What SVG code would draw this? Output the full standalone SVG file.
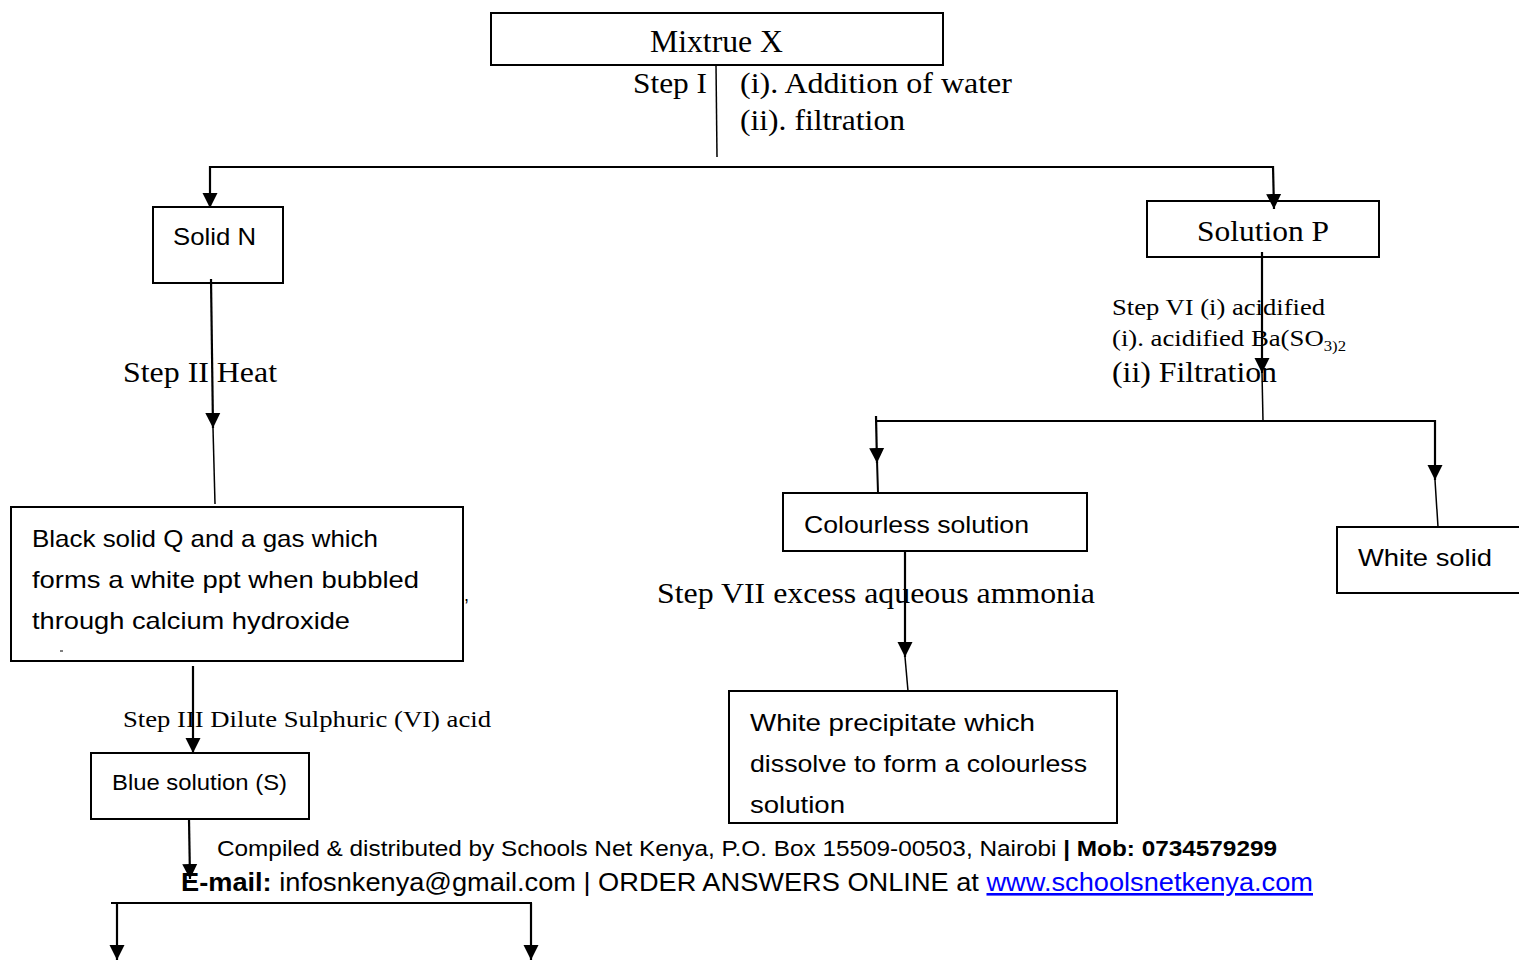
<svg xmlns="http://www.w3.org/2000/svg" width="1519" height="960" viewBox="0 0 1519 960">
<style>
.box{fill:#fff;stroke:#000;stroke-width:2}
.ln{stroke:#000;stroke-width:2;fill:none}
.thin{stroke:#000;stroke-width:1.5;fill:none}
.ar{stroke:#000;stroke-width:2.2;fill:none;marker-end:url(#ah)}
.serif{font-family:"Liberation Serif","Times New Roman",serif;fill:#000}
.sans{font-family:"Liberation Sans",Arial,sans-serif;fill:#000}
</style>
<defs>
<marker id="ah" markerUnits="userSpaceOnUse" markerWidth="16" markerHeight="16" refX="15" refY="7.5" orient="auto" viewBox="0 0 16 15">
<path d="M0,0 L15,7.5 L0,15 z" fill="#000"/>
</marker>
</defs>
<rect width="1519" height="960" fill="#fff"/>

<g id="mixture-x">
<rect class="box" x="491" y="13" width="452" height="52"/>
<text class="serif" x="650" y="52" font-size="31" textLength="133" lengthAdjust="spacingAndGlyphs">Mixtrue X</text>
</g>

<g id="step1-label">
<text class="serif" x="633" y="93" font-size="30" textLength="74" lengthAdjust="spacingAndGlyphs">Step I</text>
<text class="serif" x="740" y="93" font-size="30" textLength="272" lengthAdjust="spacingAndGlyphs">(i). Addition of water</text>
<text class="serif" x="740" y="130" font-size="30" textLength="165" lengthAdjust="spacingAndGlyphs">(ii). filtration</text>
</g>

<g id="solid-n">
<rect class="box" x="153" y="207" width="130" height="76"/>
<text class="sans" x="173" y="245" font-size="24" textLength="83" lengthAdjust="spacingAndGlyphs">Solid N</text>
</g>

<g id="step2-label">
<text class="serif" x="123" y="382" font-size="29" textLength="154" lengthAdjust="spacingAndGlyphs">Step II Heat</text>
</g>

<g id="black-solid-q">
<rect class="box" x="11" y="507" width="452" height="154"/>
<text class="sans" x="32" y="547" font-size="24" textLength="346" lengthAdjust="spacingAndGlyphs">Black solid Q and a gas which</text>
<text class="sans" x="32" y="588" font-size="24" textLength="387" lengthAdjust="spacingAndGlyphs">forms a white ppt when bubbled</text>
<text class="sans" x="32" y="629" font-size="24" textLength="318" lengthAdjust="spacingAndGlyphs">through calcium hydroxide</text>
<text class="sans" x="464" y="601" font-size="18">,</text>
<line x1="60" y1="651" x2="63" y2="651" stroke="#000" stroke-width="1"/>
</g>

<g id="step3-label">
<text class="serif" x="123" y="727" font-size="24" textLength="368" lengthAdjust="spacingAndGlyphs">Step III Dilute Sulphuric (VI) acid</text>
</g>

<g id="blue-solution">
<rect class="box" x="91" y="753" width="218" height="66"/>
<text class="sans" x="112" y="790" font-size="22" textLength="175" lengthAdjust="spacingAndGlyphs">Blue solution (S)</text>
</g>

<g id="solution-p">
<rect class="box" x="1147" y="201" width="232" height="56"/>
<text class="serif" x="1197" y="241" font-size="30" textLength="132" lengthAdjust="spacingAndGlyphs">Solution P</text>
</g>

<g id="step6-label">
<text class="serif" x="1112" y="315" font-size="24" textLength="213" lengthAdjust="spacingAndGlyphs">Step VI (i) acidified</text>
<text class="serif" x="1112" y="346" font-size="24" textLength="234" lengthAdjust="spacingAndGlyphs">(i). acidified Ba(SO<tspan font-size="15" dy="5">3)2</tspan></text>
<text class="serif" x="1112" y="382" font-size="30" textLength="165" lengthAdjust="spacingAndGlyphs">(ii) Filtration</text>
</g>

<g id="colourless-solution">
<rect class="box" x="783" y="493" width="304" height="58"/>
<text class="sans" x="804" y="533" font-size="24" textLength="225" lengthAdjust="spacingAndGlyphs">Colourless solution</text>
</g>

<g id="white-solid">
<rect class="box" x="1337" y="527" width="190" height="66"/>
<text class="sans" x="1358" y="566" font-size="24" textLength="134" lengthAdjust="spacingAndGlyphs">White solid</text>
</g>

<g id="step7-label">
<text class="serif" x="657" y="603" font-size="30" textLength="438" lengthAdjust="spacingAndGlyphs">Step VII excess aqueous ammonia</text>
</g>

<g id="white-precipitate">
<rect class="box" x="729" y="691" width="388" height="132"/>
<text class="sans" x="750" y="731" font-size="24" textLength="285" lengthAdjust="spacingAndGlyphs">White precipitate which</text>
<text class="sans" x="750" y="772" font-size="24" textLength="337" lengthAdjust="spacingAndGlyphs">dissolve to form a colourless</text>
<text class="sans" x="750" y="813" font-size="24" textLength="95" lengthAdjust="spacingAndGlyphs">solution</text>
</g>

<g id="footer">
<text class="sans" x="217" y="856" font-size="22" textLength="1060" lengthAdjust="spacingAndGlyphs">Compiled &amp; distributed by Schools Net Kenya, P.O. Box 15509-00503, Nairobi <tspan font-weight="bold">| Mob: 0734579299</tspan></text>
<text class="sans" x="181" y="891" font-size="26" textLength="1132" lengthAdjust="spacingAndGlyphs"><tspan font-weight="bold">E-mail:</tspan> infosnkenya@gmail.com | ORDER ANSWERS ONLINE at <tspan fill="#0000ff" text-decoration="underline">www.schoolsnetkenya.com</tspan></text>
</g>

<g id="connectors">
<line class="thin" x1="716" y1="65" x2="717" y2="157"/>
<line class="ln" x1="209" y1="167" x2="1273" y2="167"/>
<line class="ar" x1="210" y1="166" x2="210" y2="208"/>
<line class="ar" x1="1273" y1="166" x2="1274" y2="209"/>
<line class="ar" x1="211" y1="279" x2="213" y2="428"/>
<line class="thin" x1="213" y1="428" x2="215" y2="504"/>
<line class="ar" x1="193" y1="666" x2="193" y2="753"/>
<line class="ar" x1="189" y1="819" x2="190" y2="879"/>
<line class="ln" x1="111" y1="903" x2="532" y2="903"/>
<line class="ar" x1="117" y1="903" x2="117" y2="960"/>
<line class="ar" x1="531" y1="903" x2="531" y2="960"/>
<line class="ar" x1="1262" y1="252" x2="1262" y2="373"/>
<line class="thin" x1="1262" y1="373" x2="1263" y2="421"/>
<line class="ln" x1="875" y1="421" x2="1435" y2="421"/>
<line class="ar" x1="876" y1="416" x2="877" y2="463"/>
<line class="ln" x1="877" y1="460" x2="878" y2="493"/>
<line class="ar" x1="1435" y1="420" x2="1435" y2="480"/>
<line class="thin" x1="1435" y1="480" x2="1438" y2="527"/>
<line class="ar" x1="905" y1="551" x2="905" y2="657"/>
<line class="thin" x1="905" y1="657" x2="908" y2="691"/>
</g>
</svg>
